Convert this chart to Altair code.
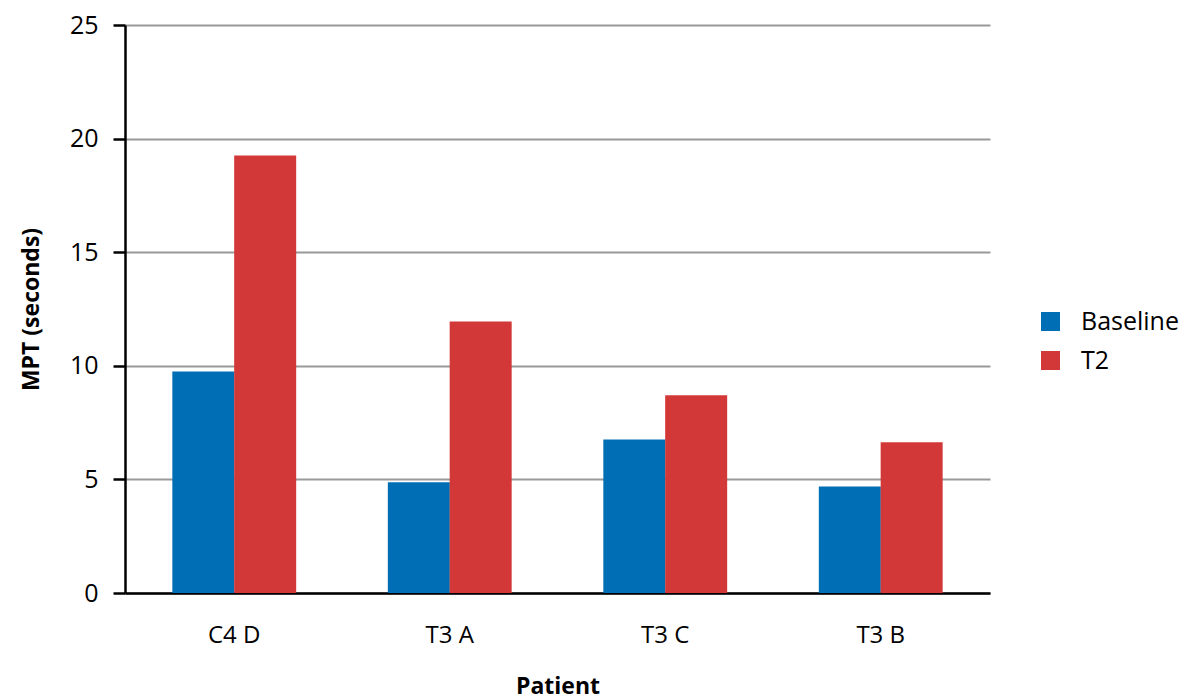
import altair as alt
import pandas as pd

# Maximum phonation time per patient, baseline vs. T2
patients = ["C4 D", "T3 A", "T3 C", "T3 B"]
baseline = [9.75, 4.87, 6.76, 4.69]
t2 = [19.26, 11.95, 8.70, 6.63]
series = ["Baseline", "T2"]
colors = ["#006EB5", "#D33838"]

rows = []
for p, b, t in zip(patients, baseline, t2):
    rows.append({"Patient": p, "Series": "Baseline", "MPT": b})
    rows.append({"Patient": p, "Series": "T2", "MPT": t})
df = pd.DataFrame(rows)

FONT = "Open Sans"

bars = alt.Chart(df).mark_bar(size=62).encode(
    x=alt.X(
        "Patient:N",
        sort=patients,
        scale=alt.Scale(paddingInner=0.426, paddingOuter=0.22),
        axis=alt.Axis(
            title="Patient",
            labelAngle=0,
            ticks=False,
            domain=True,
            domainColor="#000000",
            domainWidth=2.5,
            labelFont=FONT,
            labelFontSize=24,
            labelColor="#000000",
            labelPadding=30,
            titleFont=FONT,
            titleFontSize=23,
            titleFontWeight="bold",
            titleColor="#000000",
            titlePadding=28,
        ),
    ),
    xOffset=alt.XOffset("Series:N", sort=series, scale=alt.Scale(paddingInner=0, paddingOuter=0)),
    y=alt.Y(
        "MPT:Q",
        scale=alt.Scale(domain=[0, 25], nice=False),
        axis=alt.Axis(
            title="MPT (seconds)",
            values=[0, 5, 10, 15, 20, 25],
            grid=True,
            gridColor="#999999",
            gridWidth=2,
            domainColor="#000000",
            domainWidth=2.5,
            tickColor="#000000",
            tickWidth=2.5,
            tickSize=12,
            labelFont=FONT,
            labelFontSize=25,
            labelColor="#000000",
            labelPadding=15,
            titleFont=FONT,
            titleFontSize=23,
            titleFontWeight="bold",
            titleColor="#000000",
            titlePadding=26,
        ),
    ),
    color=alt.Color(
        "Series:N",
        sort=series,
        scale=alt.Scale(domain=series, range=colors),
        legend=alt.Legend(
            title=None,
            orient="none",
            legendX=913,
            legendY=284,
            symbolType="square",
            symbolSize=361,
            symbolStrokeWidth=0,
            labelFont=FONT,
            labelFontSize=25,
            labelColor="#000000",
            labelOffset=18,
            rowPadding=13,
        ),
    ),
)

chart = bars.properties(
    width=865,
    height=568,
    background="#ffffff",
    autosize=alt.AutoSizeParams(type="none"),
    padding={"left": 125, "top": 25, "right": 199, "bottom": 107},
).configure_view(stroke=None, strokeWidth=0)

chart.save("out.html", embed_options={"renderer": "svg", "actions": False})
